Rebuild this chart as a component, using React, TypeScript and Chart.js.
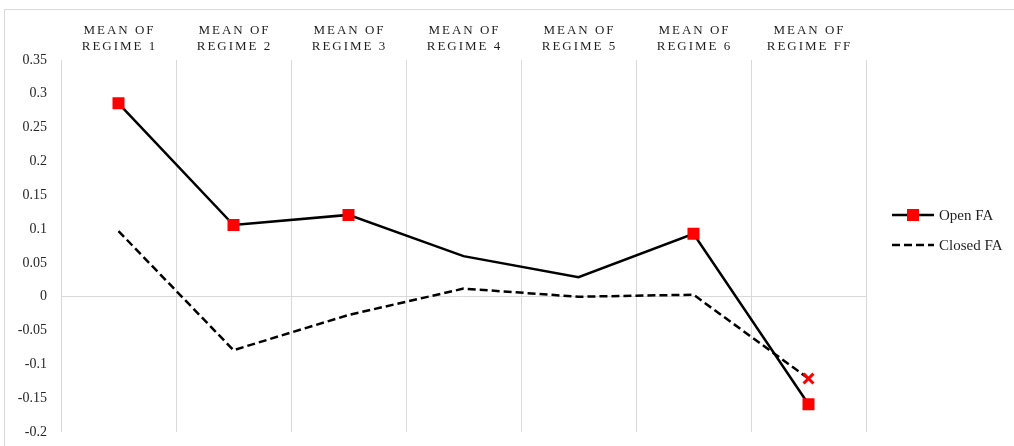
import React, { useEffect, useRef } from "react";
import { Chart, registerables } from "chart.js";

Chart.register(...registerables);

// Category headings (two lines each), drawn above the plot
const categories: string[][] = [
  ["MEAN OF", "REGIME 1"],
  ["MEAN OF", "REGIME 2"],
  ["MEAN OF", "REGIME 3"],
  ["MEAN OF", "REGIME 4"],
  ["MEAN OF", "REGIME 5"],
  ["MEAN OF", "REGIME 6"],
  ["MEAN OF", "REGIME FF"],
];

const seriesNames = ["Open FA", "Closed FA"];

const openFA = [0.286, 0.106, 0.121, 0.06, 0.029, 0.093, -0.159];
const closedFA = [0.097, -0.079, -0.027, 0.012, 0.0, 0.003, -0.121];

// marker visibility per point (0 = no marker)
const openMarkerRadius = [8.5, 8.5, 8.5, 0, 0, 8.5, 8.5];
const closedMarkerRadius = [0, 0, 0, 0, 0, 0, 7];

const yMin = -0.2;
const yMax = 0.35;
const yStep = 0.05;

const SERIF = "'Liberation Serif', 'Times New Roman', serif";
const GRID = "#d9d9d9";
const RED = "#ff0000";
const TEXT = "#1f1f1f";

const categoryLabels = {
  id: "categoryLabels",
  afterDraw(chart: any) {
    const { ctx } = chart;
    const x = chart.scales.x;
    ctx.save();
    ctx.font = `13px ${SERIF}`;
    ctx.fillStyle = TEXT;
    ctx.textAlign = "center";
    ctx.textBaseline = "alphabetic";
    ctx.letterSpacing = "2px";
    categories.forEach((lines, i) => {
      const cx = x.getPixelForValue(i) + 1;
      lines.forEach((t, j) => ctx.fillText(t, cx, 24 + j * 16));
    });
    ctx.restore();
  },
};

const sideLegend = {
  id: "sideLegend",
  afterDraw(chart: any) {
    const { ctx, chartArea } = chart;
    const x0 = chartArea.right + 26;
    const y0 = (chartArea.top + chartArea.bottom) / 2 - 31;
    const len = 42;
    ctx.save();
    ctx.font = `15px ${SERIF}`;
    ctx.textBaseline = "middle";
    ctx.textAlign = "left";
    seriesNames.forEach((name, i) => {
      const y = y0 + i * 30;
      ctx.beginPath();
      ctx.strokeStyle = "#000";
      ctx.lineWidth = 2.5;
      ctx.setLineDash(i === 0 ? [] : [8, 4]);
      ctx.moveTo(x0, y);
      ctx.lineTo(x0 + len, y);
      ctx.stroke();
      ctx.setLineDash([]);
      if (i === 0) {
        ctx.fillStyle = RED;
        ctx.fillRect(x0 + len / 2 - 6, y - 6, 12, 12);
      }
      ctx.fillStyle = TEXT;
      ctx.fillText(name, x0 + len + 5, y + 1);
    });
    ctx.restore();
  },
};

export default function App() {
  const ref = useRef<HTMLCanvasElement | null>(null);

  useEffect(() => {
    if (!ref.current) return;
    const chart = new Chart(ref.current, {
      type: "line",
      data: {
        labels: categories.map((c) => c.join(" ")),
        datasets: [
          {
            label: seriesNames[0],
            data: openFA,
            borderColor: "#000",
            borderWidth: 2.5,
            tension: 0,
            pointStyle: "rect",
            pointRadius: openMarkerRadius,
            pointHoverRadius: openMarkerRadius,
            pointBackgroundColor: RED,
            pointBorderColor: RED,
            pointBorderWidth: 0,
          },
          {
            label: seriesNames[1],
            data: closedFA,
            borderColor: "#000",
            borderWidth: 2.5,
            borderDash: [8, 4],
            tension: 0,
            pointStyle: "crossRot",
            pointRadius: closedMarkerRadius,
            pointHoverRadius: closedMarkerRadius,
            pointBackgroundColor: RED,
            pointBorderColor: RED,
            pointBorderWidth: 3,
          },
        ],
      },
      options: {
        responsive: false,
        animation: false,
        layout: { padding: { left: 0, right: 148, top: 0, bottom: 14 } },
        plugins: {
          legend: { display: false },
          tooltip: { enabled: false },
        },
        scales: {
          x: {
            position: "top",
            offset: true,
            grid: { color: GRID, lineWidth: 1, offset: true, drawTicks: false },
            border: { display: false },
            ticks: { display: false },
            afterFit: (s: any) => {
              s.height = 50;
            },
          },
          y: {
            min: yMin,
            max: yMax,
            border: { display: false },
            grid: {
              drawTicks: false,
              color: (c: any) =>
                c.tick && Math.abs(c.tick.value) < 1e-9 ? GRID : "rgba(0,0,0,0)",
            },
            ticks: {
              stepSize: yStep,
              padding: 14,
              color: "#262626",
              font: { family: SERIF, size: 14 },
              callback: (v: any) => String(Number(Number(v).toFixed(2))),
            },
            afterFit: (s: any) => {
              s.width = 56;
              s.paddingTop = 0;
              s.paddingBottom = 0;
            },
          },
        },
      },
      plugins: [categoryLabels, sideLegend],
    });
    return () => chart.destroy();
  }, []);

  return (
    <div
      style={{
        position: "fixed",
        left: 4,
        top: 9,
        width: 1040,
        height: 470,
        border: `1px solid ${GRID}`,
        background: "#fff",
      }}
    >
      <canvas ref={ref} width={1009} height={436} style={{ display: "block" }} />
    </div>
  );
}
